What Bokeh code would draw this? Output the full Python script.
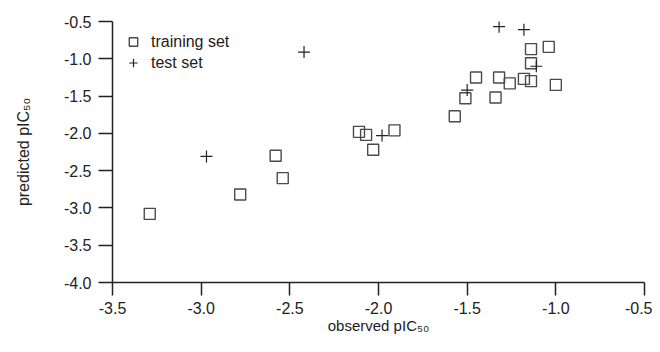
from bokeh.plotting import figure
from bokeh.models import Range1d, FixedTicker, Legend, LegendItem
from bokeh.embed import file_html
from bokeh.resources import INLINE

# training set (observed, predicted)
train_x = [-3.29, -2.78, -2.58, -2.54, -2.11, -2.07, -2.03, -1.91, -1.57, -1.51,
           -1.45, -1.34, -1.32, -1.26, -1.18, -1.14, -1.14, -1.14, -1.04, -1.00]
train_y = [-3.08, -2.82, -2.30, -2.60, -1.98, -2.02, -2.22, -1.96, -1.77, -1.53,
           -1.25, -1.52, -1.25, -1.33, -1.27, -1.30, -1.06, -0.87, -0.84, -1.35]

# test set
test_x = [-2.97, -2.42, -1.98, -1.50, -1.32, -1.18, -1.11]
test_y = [-2.31, -0.91, -2.03, -1.42, -0.57, -0.61, -1.10]

x_ticks = [-3.5, -3.0, -2.5, -2.0, -1.5, -1.0, -0.5]
y_ticks = [-4.0, -3.5, -3.0, -2.5, -2.0, -1.5, -1.0, -0.5]

FONT = "Liberation Sans"
AX = "#222222"

p = figure(width=652, height=336, output_backend="svg", toolbar_location=None,
           x_range=Range1d(-3.5, -0.5), y_range=Range1d(-4.0, -0.5),
           min_border_left=112, min_border_right=8, min_border_top=21,
           min_border_bottom=54)
p.outline_line_color = None
p.grid.visible = False
p.background_fill_color = "white"

r1 = p.scatter(train_x, train_y, marker="square", size=11, fill_color=None,
               line_color="#4a4a4a", line_width=1.4)
r2 = p.scatter(test_x, test_y, marker="cross", size=12,
               line_color="#222222", line_width=1.2)

for ax in (p.xaxis[0], p.yaxis[0]):
    ax.axis_line_color = AX
    ax.axis_line_width = 1.5
    ax.major_tick_line_color = AX
    ax.major_tick_line_width = 1.5
    ax.major_tick_in = 0
    ax.minor_tick_line_color = None
    ax.major_label_text_font = FONT
    ax.major_label_text_font_size = "16px"
    ax.major_label_text_color = "#222222"
    ax.axis_label_text_font = FONT
    ax.axis_label_text_font_size = "16px"
    ax.axis_label_text_font_style = "normal"
    ax.axis_label_text_color = "#222222"

p.xaxis.ticker = FixedTicker(ticks=x_ticks)
p.yaxis.ticker = FixedTicker(ticks=y_ticks)
p.xaxis.major_label_overrides = {t: f"{t:.1f}" for t in x_ticks}
p.yaxis.major_label_overrides = {t: f"{t:.1f}" for t in y_ticks}
p.xaxis.major_tick_out = 13
p.yaxis.major_tick_out = 14
p.xaxis.major_label_standoff = 6
p.yaxis.major_label_standoff = 7
p.xaxis.axis_label = "observed pIC\u2085\u2080"
p.yaxis.axis_label = "predicted pIC\u2085\u2080"
p.xaxis.axis_label_text_font_size = "15px"
p.xaxis.axis_label_standoff = 0
p.yaxis.axis_label_standoff = 29

legend = Legend(items=[LegendItem(label="training set", renderers=[r1]),
                       LegendItem(label="test set", renderers=[r2])],
                location="top_left")
legend.border_line_color = None
legend.background_fill_alpha = 0
legend.margin = 10
legend.padding = 11
legend.spacing = 0
legend.glyph_width = 22
legend.glyph_height = 21
legend.label_height = 20
legend.label_standoff = 7
legend.label_text_font = FONT
legend.label_text_font_size = "16px"
legend.label_text_color = "#222222"
p.add_layout(legend)

open("out.html", "w").write(file_html(p, INLINE))
